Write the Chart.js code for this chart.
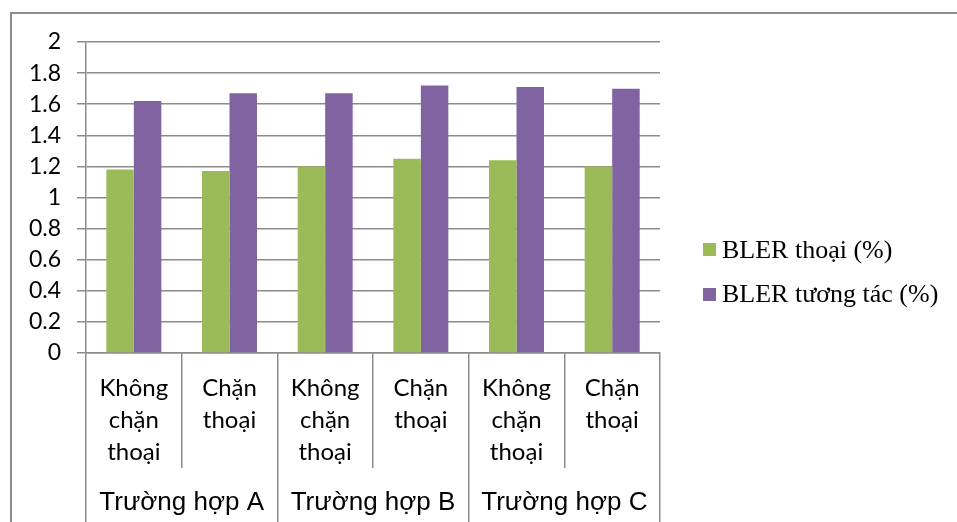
<!DOCTYPE html>
<html>
<head>
<meta charset="utf-8">
<script src="https://cdn.jsdelivr.net/npm/chart.js@4.4.1/dist/chart.umd.min.js"></script>
<style>
  html, body { margin: 0; padding: 0; background: #fff; }
  #wrap { position: relative; width: 957px; height: 522px; overflow: hidden; }
  #frame { position: absolute; left: 10px; top: 12px; width: 1000px; height: 600px;
           border-top: 2px solid #8c8c8c; border-left: 2px solid #8c8c8c; }
  #c { position: absolute; left: 0; top: 0; }
  .lg-item { position: absolute; left: 703px; height: 26px; }
  .lg-box { position: absolute; left: 0; width: 13px; height: 13px; }
  .lg-text { position: absolute; left: 19px; top: 0; white-space: nowrap;
             font-family: "Liberation Serif", "Times New Roman", serif; font-size: 26px;
             line-height: 26px; color: #000; }
</style>
</head>
<body>
<div id="wrap">
  <div id="frame"></div>
  <canvas id="c" width="957" height="522"></canvas>
  <div id="legend"></div>
</div>
<script>
// ---- data ----
const categories = [
  ['Không', 'chặn', 'thoại'], ['Chặn', 'thoại'],
  ['Không', 'chặn', 'thoại'], ['Chặn', 'thoại'],
  ['Không', 'chặn', 'thoại'], ['Chặn', 'thoại']
];
const groups = ['Trường hợp A', 'Trường hợp B', 'Trường hợp C'];
const seriesNames = ['BLER thoại (%)', 'BLER tương tác (%)'];
const blerThoai = [1.18, 1.17, 1.20, 1.25, 1.24, 1.20];
const blerTuongTac = [1.62, 1.67, 1.67, 1.72, 1.71, 1.70];
const yTickLabels = ['0', '0.2', '0.4', '0.6', '0.8', '1', '1.2', '1.4', '1.6', '1.8', '2'];
const seriesColors = ['#9BBB59', '#8064A2'];

const gridColor = '#8c8c8c';

new Chart(document.getElementById('c'), {
  type: 'bar',
  data: {
    labels: categories,
    datasets: [
      { label: seriesNames[0], data: blerThoai, backgroundColor: seriesColors[0],
        categoryPercentage: 0.575, barPercentage: 1.0 },
      { label: seriesNames[1], data: blerTuongTac, backgroundColor: seriesColors[1],
        categoryPercentage: 0.575, barPercentage: 1.0 }
    ]
  },
  options: {
    responsive: false,
    animation: false,
    devicePixelRatio: 1,
    layout: { padding: { left: 0, top: 42, right: 297, bottom: 0 } },
    plugins: { legend: { display: false }, tooltip: { enabled: false } },
    scales: {
      y: {
        min: 0, max: 2,
        ticks: {
          stepSize: 0.2,
          color: '#000',
          padding: 16,
          font: { family: 'Lato', size: 23 },
          callback: (v, i) => yTickLabels[i]
        },
        grid: { color: gridColor, lineWidth: 1.5, tickLength: 9 },
        border: { display: true, color: gridColor, width: 1.5 },
        afterFit: (s) => { s.width = 86; }
      },
      x: {
        weight: 0,
        offset: true,
        ticks: {
          color: '#000',
          autoSkip: false, maxRotation: 0, minRotation: 0,
          padding: -96,
          font: { family: 'Lato', size: 24, lineHeight: 1.333 }
        },
        grid: { offset: true, drawOnChartArea: false, tickLength: 115, color: gridColor, lineWidth: 1.5 },
        border: { display: true, color: gridColor, width: 1.5 },
        afterFit: (s) => { s.height = 115; }
      },
      x2: {
        type: 'category',
        position: 'bottom',
        weight: 1,
        labels: groups,
        offset: true,
        ticks: {
          color: '#000',
          autoSkip: false, maxRotation: 0, minRotation: 0,
          padding: -34.6,
          font: { family: 'Liberation Sans', size: 26, lineHeight: 1.2 }
        },
        grid: { offset: true, drawOnChartArea: false, tickLength: 54, color: gridColor, lineWidth: 1.5 },
        border: { display: false },
        afterFit: (s) => { s.height = 54; }
      }
    }
  }
});

// ---- legend (HTML, built from the series arrays) ----
const legendTops = [237, 281];
const boxOffsets = [6, 7];
const lg = document.getElementById('legend');
seriesNames.forEach((name, i) => {
  const item = document.createElement('div');
  item.className = 'lg-item';
  item.style.top = legendTops[i] + 'px';
  const box = document.createElement('div');
  box.className = 'lg-box';
  box.style.top = boxOffsets[i] + 'px';
  box.style.background = seriesColors[i];
  const txt = document.createElement('span');
  txt.className = 'lg-text';
  txt.textContent = name;
  item.appendChild(box);
  item.appendChild(txt);
  lg.appendChild(item);
});
</script>
</body>
</html>
